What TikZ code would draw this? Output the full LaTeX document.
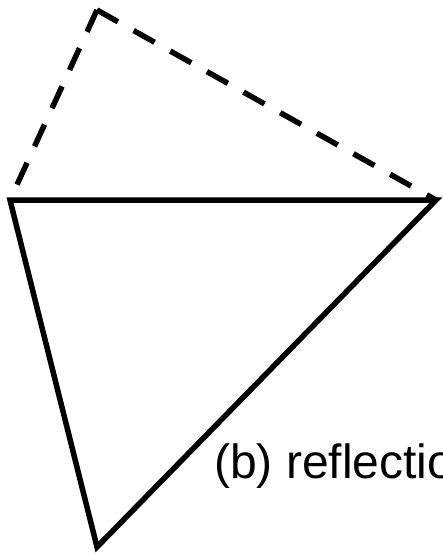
\documentclass[tikz,border=0pt]{standalone}
\usepackage{fontspec}
\setmainfont{Liberation Sans}
\begin{document}
\begin{tikzpicture}[x=1pt,y=-1pt,
  edge/.style={line width=5.5pt, line join=miter, black},
  dashedge/.style={line width=5.5pt, dash pattern=on 24pt off 18pt, black},
  lbl/.style={anchor=base west, inner sep=0pt, font=\fontsize{48}{56}\selectfont}]
\useasboundingbox (0,0) rectangle (442,554);
\clip (0,0) rectangle (442,554);
\coordinate (A) at (10,200);
\coordinate (B) at (436,200);
\coordinate (C) at (97,547);
\coordinate (D) at (97,10);
\draw[dashedge] (D) -- (A);
\draw[dashedge] (D) -- (B);
\draw[edge] (A) -- (B) -- (C) -- cycle;
\node[lbl] (t) at (214,478) {(b) reflection};
\end{tikzpicture}
\end{document}
